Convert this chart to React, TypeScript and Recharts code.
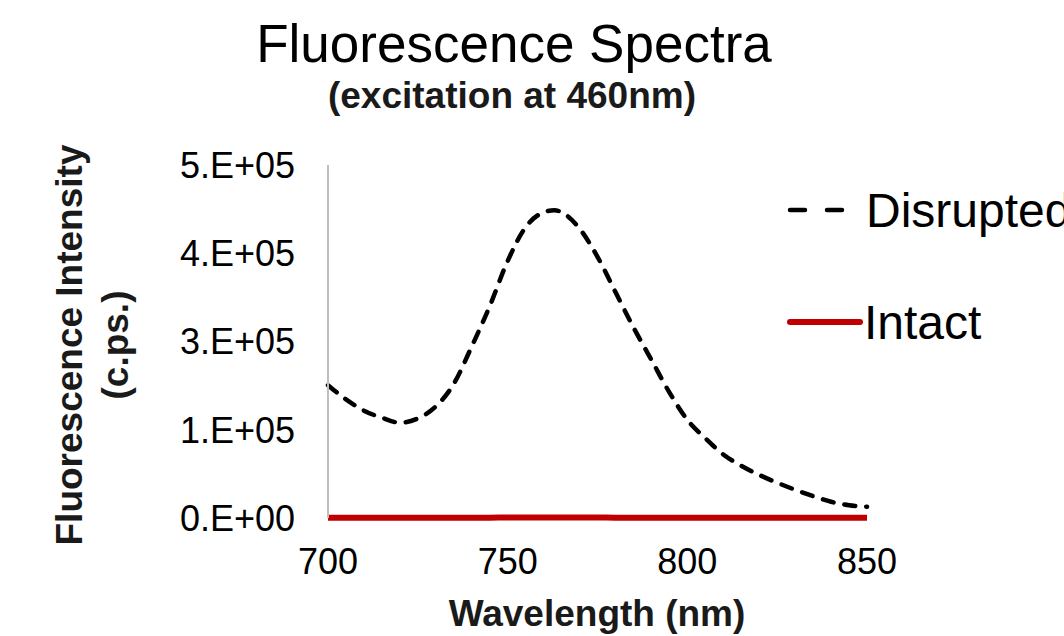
import React from 'react';
import { LineChart, Line, XAxis, YAxis } from 'recharts';

const wavelengths = [700, 705, 710, 715, 720, 725, 730, 735, 740, 745, 750, 755, 760, 763, 766, 770, 775, 780, 785, 790, 795, 800, 805, 810, 815, 820, 825, 830, 835, 840, 845, 850];
const disrupted = [188000, 168000, 152000, 142000, 135000, 141000, 158000, 190000, 243000, 300000, 364000, 412000, 433000, 436000, 430000, 410000, 370000, 320000, 270000, 224000, 178000, 139000, 113000, 90000, 74000, 61000, 50000, 40000, 31000, 23000, 18000, 16000];
const intact = [500, 500, 500, 500, 500, 500, 500, 500, 500, 500, 600, 600, 600, 600, 600, 600, 600, 500, 500, 500, 500, 500, 500, 500, 500, 500, 500, 500, 500, 500, 500, 500];

const xTicks = [700, 750, 800, 850];
const yTicks = [0, 125000, 250000, 375000, 500000];
const yTickLabels = ['0.E+00', '1.E+05', '3.E+05', '4.E+05', '5.E+05'];
const seriesNames = ['Disrupted', 'Intact'];

const title = 'Fluorescence Spectra';
const subtitle = '(excitation at 460nm)';
const xTitle = 'Wavelength (nm)';
const yTitle1 = 'Fluorescence Intensity';
const yTitle2 = '(c.ps.)';

const data = wavelengths.map((w, i) => ({ w, disrupted: disrupted[i], intact: intact[i] }));

const FONT = '"Liberation Sans", Arial, sans-serif';

export default function App() {
  return (
    <div style={{ position: 'absolute', left: 0, top: 0, width: 1064, height: 636, background: '#fff', fontFamily: FONT }}>
      <LineChart width={1064} height={636} data={data} margin={{ top: 165, right: 197, bottom: 0, left: 0 }}>
        <XAxis
          dataKey="w"
          type="number"
          domain={[700, 850]}
          ticks={xTicks}
          axisLine={false}
          tickLine={false}
          tickSize={0}
          tickMargin={30}
          height={118}
          tick={{ fontSize: 36, fill: '#000', fontFamily: FONT }}
        />
        <YAxis
          type="number"
          domain={[0, 500000]}
          ticks={yTicks}
          tickFormatter={(v: number) => yTickLabels[yTicks.indexOf(v)] ?? ''}
          axisLine={{ stroke: '#BFBFBF', strokeWidth: 2 }}
          tickLine={false}
          tickSize={0}
          tickMargin={33}
          width={328}
          tick={{ fontSize: 36, fill: '#000', fontFamily: FONT }}
        />
        <Line
          dataKey="intact"
          name={seriesNames[1]}
          type="monotone"
          stroke="#C00000"
          strokeWidth={6}
          dot={false}
          isAnimationActive={false}
        />
        <Line
          dataKey="disrupted"
          name={seriesNames[0]}
          type="monotone"
          stroke="#000"
          strokeWidth={4.5}
          strokeDasharray="11 11"
          strokeLinecap="round"
          dot={false}
          isAnimationActive={false}
        />
      </LineChart>
      <svg width={1064} height={636} style={{ position: 'absolute', left: 0, top: 0, pointerEvents: 'none' }}>
        <text x={514} y={62} textAnchor="middle" fontSize={53} fontFamily={FONT} fill="#000">{title}</text>
        <text x={512} y={108} textAnchor="middle" fontSize={37} fontWeight="bold" fontFamily={FONT} fill="#1a1a1a">{subtitle}</text>
        <text x={597} y={626} textAnchor="middle" fontSize={37} fontWeight="bold" fontFamily={FONT} fill="#1a1a1a">{xTitle}</text>
        <g transform="translate(82,345) rotate(-90)">
          <text x={0} y={0} textAnchor="middle" fontSize={37} fontWeight="bold" fontFamily={FONT} fill="#1a1a1a">{yTitle1}</text>
          <text x={0} y={46} textAnchor="middle" fontSize={37} fontWeight="bold" fontFamily={FONT} fill="#1a1a1a">{yTitle2}</text>
        </g>
        <line x1={790} y1={210} x2={846} y2={210} stroke="#000" strokeWidth={4.5} strokeDasharray="15 22" strokeLinecap="round" />
        <text x={866} y={227} fontSize={48} fontFamily={FONT} fill="#000">{seriesNames[0]}</text>
        <line x1={790} y1={322} x2={860} y2={322} stroke="#C00000" strokeWidth={6} strokeLinecap="round" />
        <text x={864} y={339} fontSize={48} fontFamily={FONT} fill="#000">{seriesNames[1]}</text>
      </svg>
    </div>
  );
}
